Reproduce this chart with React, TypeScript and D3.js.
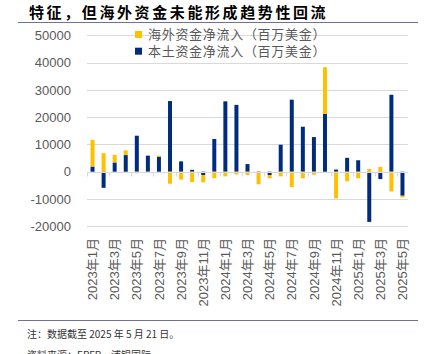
import React, { useEffect, useRef } from 'react';
import * as d3 from 'd3';

const months = [
  '2023年1月', '2023年2月', '2023年3月', '2023年4月', '2023年5月', '2023年6月',
  '2023年7月', '2023年8月', '2023年9月', '2023年10月', '2023年11月', '2023年12月',
  '2024年1月', '2024年2月', '2024年3月', '2024年4月', '2024年5月', '2024年6月',
  '2024年7月', '2024年8月', '2024年9月', '2024年10月', '2024年11月', '2024年12月',
  '2025年1月', '2025年2月', '2025年3月', '2025年4月', '2025年5月',
];

// 海外资金净流入（百万美金）
const overseas = [
  9800, 6800, 2800, 1700, -600, -150, 500, -4400, -2900, -3800, -2700, -2400,
  -1700, -1000, -1200, -4600, -1200, -1700, -5600, -2400, -1100, 17100, -9800, -3500,
  -2400, 1000, 1800, -7200, -600,
];

// 本土资金净流入（百万美金）
const domestic = [
  1900, -5900, 3400, 6100, 13200, 5900, 5400, 25900, 3800, 700, -1200, 12000,
  25800, 24500, 2800, 100, -1200, 9900, 26400, 16500, 12700, 21200, 800, 5100,
  4200, -18400, -2700, 28200, -8800,
];

const yTicks = [-20000, -10000, 0, 10000, 20000, 30000, 40000, 50000];

const seriesNames = ['海外资金净流入（百万美金）', '本土资金净流入（百万美金）'];

const W = 426;
const H = 354;
const YELLOW = '#FFC000';
const NAVY = '#002C7E';
const GREY_TXT = '#595959';
const GRID = '#D9D9D9';
const RULE = '#6E6EA8';
const NUM_FONT = '"Liberation Sans", "Noto Sans CJK SC", sans-serif';
const CJK_FONT = '"Noto Sans CJK SC", sans-serif';

const FlowChart = () => {
  const svgRef = useRef<SVGSVGElement | null>(null);

  useEffect(() => {
    const svg = d3.select(svgRef.current);
    svg.selectAll('*').remove();

    const left = 87;
    const right = 408;
    const top = 35.3;
    const bottom = 226.3;

    const x = d3.scaleBand<string>().domain(months).range([left, right]).padding(0);
    const y = d3.scaleLinear().domain([-20000, 50000]).range([bottom, top]);

    // title + rules
    svg.append('text')
      .attr('x', 29)
      .attr('y', 17.5)
      .style('font-family', CJK_FONT)
      .style('font-size', '15px')
      .style('font-weight', '700')
      .style('letter-spacing', '2.6px')
      .style('fill', '#000')
      .text('特征，但海外资金未能形成趋势性回流');

    svg.append('line')
      .attr('x1', 18).attr('x2', 418)
      .attr('y1', 22.5).attr('y2', 22.5)
      .style('stroke', RULE)
      .style('stroke-width', 1.2);

    svg.append('line')
      .attr('x1', 18).attr('x2', 418)
      .attr('y1', 320.5).attr('y2', 320.5)
      .style('stroke', RULE)
      .style('stroke-width', 1.2);

    // grid lines
    svg.append('g')
      .selectAll('line')
      .data(yTicks.filter(t => t !== 0))
      .enter()
      .append('line')
      .attr('x1', left).attr('x2', right)
      .attr('y1', d => Math.round(y(d)) + 0.5)
      .attr('y2', d => Math.round(y(d)) + 0.5)
      .style('stroke', GRID)
      .style('stroke-width', 1);

    // y labels
    svg.append('g')
      .selectAll('text')
      .data(yTicks)
      .enter()
      .append('text')
      .attr('x', 71)
      .attr('y', d => y(d))
      .attr('dy', '0.36em')
      .attr('text-anchor', 'end')
      .style('font-family', NUM_FONT)
      .style('font-size', '13px')
      .style('fill', GREY_TXT)
      .text(d => String(d));

    // stacked bars: domestic closest to zero, overseas stacked outward
    const rows = months.map((m, i) => ({ month: m, domestic: domestic[i], overseas: overseas[i] }));
    const stack = d3.stack<any>()
      .keys(['domestic', 'overseas'])
      .offset(d3.stackOffsetDiverging);
    const layers = stack(rows);
    const colors: Record<string, string> = { domestic: NAVY, overseas: YELLOW };

    const barW = x.bandwidth() * 0.36;

    svg.append('g')
      .selectAll('g')
      .data(layers)
      .enter()
      .append('g')
      .attr('fill', d => colors[d.key])
      .selectAll('rect')
      .data(d => d)
      .enter()
      .append('rect')
      .attr('x', d => (x(d.data.month) as number) + (x.bandwidth() - barW) / 2)
      .attr('y', d => y(Math.max(d[0], d[1])))
      .attr('width', barW)
      .attr('height', d => Math.abs(y(d[0]) - y(d[1])));

    // zero axis with ticks
    const y0 = Math.round(y(0)) + 0.5;
    svg.append('line')
      .attr('x1', left).attr('x2', right)
      .attr('y1', y0).attr('y2', y0)
      .style('stroke', GRID)
      .style('stroke-width', 1);

    svg.append('g')
      .selectAll('line')
      .data(months.filter((_, i) => i % 2 === 0))
      .enter()
      .append('line')
      .attr('x1', d => Math.round(x(d) as number) + 0.5)
      .attr('x2', d => Math.round(x(d) as number) + 0.5)
      .attr('y1', y0)
      .attr('y2', y0 + 4)
      .style('stroke', GRID)
      .style('stroke-width', 1);

    // x labels, every second month, rotated
    svg.append('g')
      .selectAll('text')
      .data(months.filter((_, i) => i % 2 === 0))
      .enter()
      .append('text')
      .attr('transform', d => `translate(${(x(d) as number) + x.bandwidth() / 2},238) rotate(-90)`)
      .attr('text-anchor', 'end')
      .attr('dy', '0.36em')
      .style('font-family', NUM_FONT)
      .style('font-size', '13px')
      .style('fill', GREY_TXT)
      .text(d => d);

    // legend
    const legend = svg.append('g').attr('transform', 'translate(135,31)');
    [YELLOW, NAVY].forEach((c, i) => {
      legend.append('rect')
        .attr('x', 0)
        .attr('y', i * 16.7)
        .attr('width', 7)
        .attr('height', 7)
        .attr('fill', c);
      legend.append('text')
        .attr('x', 13)
        .attr('y', i * 16.7 + 3.5)
        .attr('dy', '0.36em')
        .style('font-family', CJK_FONT)
        .style('font-size', '13px')
        .style('letter-spacing', '0.7px')
        .style('fill', GREY_TXT)
        .text(seriesNames[i]);
    });

    // footnotes
    svg.append('text')
      .attr('x', 27)
      .attr('y', 337.5)
      .style('font-family', CJK_FONT)
      .style('font-size', '10px')
      .style('fill', '#333')
      .text('注：数据截至 2025 年 5 月 21 日。');

    svg.append('text')
      .attr('x', 27)
      .attr('y', 359)
      .style('font-family', CJK_FONT)
      .style('font-size', '10px')
      .style('fill', '#333')
      .text('资料来源：EPFR，浦银国际');
  }, []);

  return (
    <svg
      ref={svgRef}
      width={W}
      height={H}
      style={{ position: 'absolute', left: 0, top: 0, background: '#fff' }}
    />
  );
};

export default function App() {
  return <FlowChart />;
}
